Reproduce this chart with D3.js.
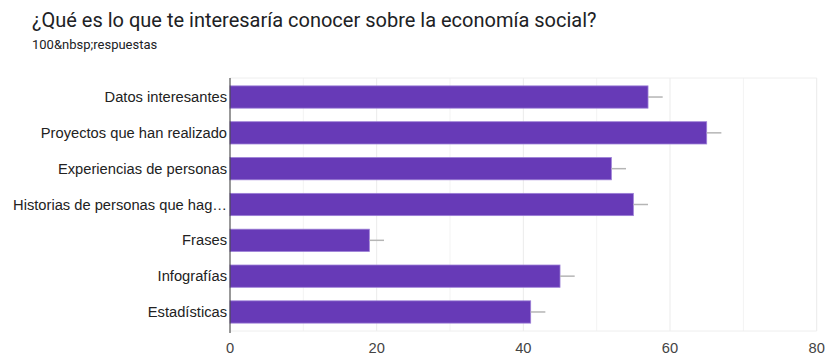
<!DOCTYPE html>
<html>
<head>
<meta charset="utf-8">
<script src="https://cdn.jsdelivr.net/npm/d3@7"></script>
<style>
  body { margin: 0; background: #fff; }
</style>
</head>
<body>
<script>
// data
var categories = [
  "Datos interesantes",
  "Proyectos que han realizado",
  "Experiencias de personas",
  "Historias de personas que hag\u2026",
  "Frases",
  "Infografías",
  "Estadísticas"
];
var values = [57, 65, 52, 55, 19, 45, 41];
var xTicks = [0, 20, 40, 60, 80];

var width = 829, height = 359;
var plotTop = 78, plotBottom = 331;

var svg = d3.select("body").append("svg")
  .attr("width", width)
  .attr("height", height);

// title
svg.append("text")
  .attr("x", 32).attr("y", 27)
  .style("font-family", "Roboto, 'Open Sans', sans-serif")
  .style("font-size", "20px")
  .style("fill", "#202124")
  .text("¿Qué es lo que te interesaría conocer sobre la economía social?");

svg.append("text")
  .attr("x", 32).attr("y", 49)
  .style("font-family", "Roboto, sans-serif")
  .style("font-size", "13px")
  .style("fill", "#202124")
  .text("100&nbsp;respuestas");

var x = d3.scaleLinear().domain([0, 80]).range([230, 816.7]);
var y = d3.scaleBand().domain(categories)
  .range([plotTop, plotBottom]).paddingInner(0.378).paddingOuter(0.22);

// gridlines every 10
var g = svg.append("g");
g.selectAll("line.grid")
  .data(d3.range(10, 81, 10))
  .enter().append("line")
  .attr("x1", d => x(d)).attr("x2", d => x(d))
  .attr("y1", plotTop).attr("y2", plotBottom)
  .style("stroke", d => d % 20 === 0 ? "#ebebeb" : "#f3f3f3")
  .style("stroke-width", 1);

// top and bottom border
g.append("line")
  .attr("x1", x(0)).attr("x2", x(80))
  .attr("y1", plotTop).attr("y2", plotTop)
  .style("stroke", "#eeeeee");
g.append("line")
  .attr("x1", x(0)).attr("x2", x(80))
  .attr("y1", plotBottom).attr("y2", plotBottom)
  .style("stroke", "#eeeeee");

// bars
g.selectAll("rect.bar")
  .data(values)
  .enter().append("rect")
  .attr("class", "bar")
  .attr("x", x(0))
  .attr("y", (d, i) => y(categories[i]))
  .attr("width", d => x(d) - x(0))
  .attr("height", y.bandwidth())
  .style("fill", "#673ab7")
  .style("stroke", "#9c7fd6")
  .style("stroke-width", 0.8);

// error whiskers
g.selectAll("line.err")
  .data(values)
  .enter().append("line")
  .attr("x1", d => x(d))
  .attr("x2", d => x(d + 2))
  .attr("y1", (d, i) => y(categories[i]) + y.bandwidth() / 2)
  .attr("y2", (d, i) => y(categories[i]) + y.bandwidth() / 2)
  .style("stroke", "#b5b5b5")
  .style("stroke-width", 1.5);

// zero axis line
g.append("line")
  .attr("x1", x(0)).attr("x2", x(0))
  .attr("y1", plotTop).attr("y2", plotBottom + 2)
  .style("stroke", "#333")
  .style("stroke-width", 1);

// category labels
g.selectAll("text.cat")
  .data(categories)
  .enter().append("text")
  .attr("x", x(0) - 3)
  .attr("y", d => y(d) + y.bandwidth() / 2)
  .attr("dy", "0.35em")
  .attr("text-anchor", "end")
  .style("font-family", "'Liberation Sans', Arial, sans-serif")
  .style("font-size", "14.7px")
  .style("fill", "#222")
  .text(d => d);

// x tick labels
g.selectAll("text.tick")
  .data(xTicks)
  .enter().append("text")
  .attr("x", d => x(d))
  .attr("y", 353)
  .attr("text-anchor", "middle")
  .style("font-family", "'Liberation Sans', Arial, sans-serif")
  .style("font-size", "14.7px")
  .style("fill", "#444")
  .text(d => d);
</script>
</body>
</html>
